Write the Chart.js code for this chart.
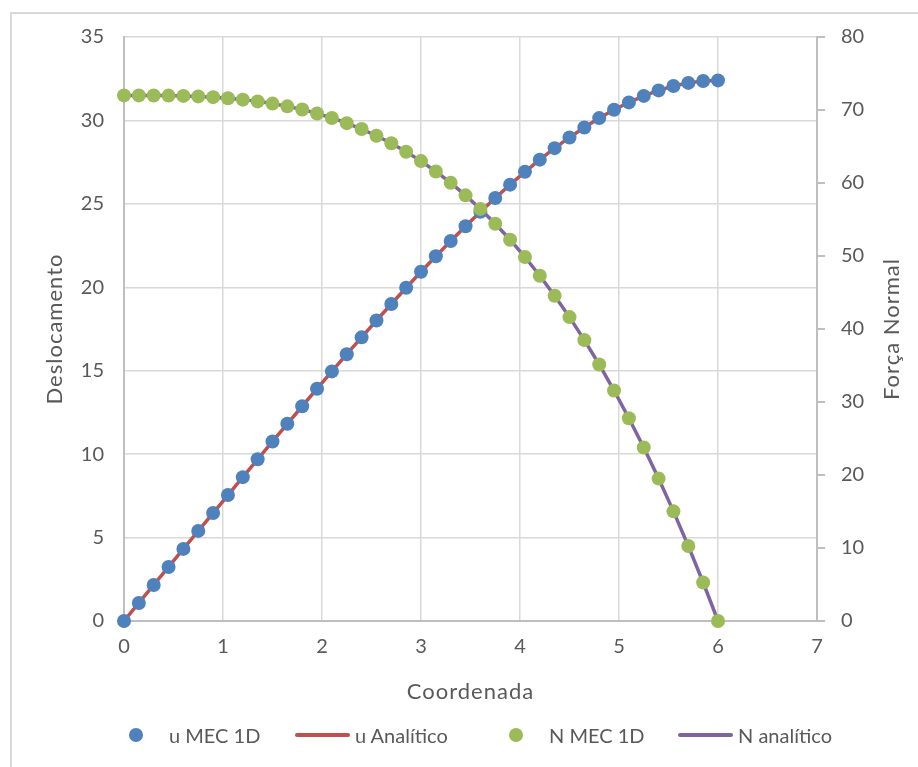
<!DOCTYPE html>
<html>
<head>
<meta charset="utf-8">
<script src="https://cdn.jsdelivr.net/npm/chart.js@4"></script>
<style>
  html, body { margin:0; padding:0; background:#fff; overflow:hidden; }
  #wrap { position:relative; width:918px; height:767px; font-family:Lato, sans-serif; }
  #frame { position:absolute; left:10px; top:12px; width:1000px; height:1000px;
           border:2px solid #d9d9d9; box-sizing:border-box; pointer-events:none; }
  #legend { position:absolute; left:0; top:722px; width:918px; height:26px; }
  .item { position:absolute; top:0; height:26px; display:flex; align-items:center;
          font-size:20px; color:#595959; white-space:nowrap; }
  .dot  { width:14px; height:14px; border-radius:50%; margin-right:26px; }
  .line { width:55px; height:4px; border-radius:2px; margin-right:5px; }
</style>
</head>
<body>
<div id="wrap">
  <canvas id="chart" width="918" height="767"></canvas>
  <div id="frame"></div>
  <div id="legend"></div>
</div>
<script>
// coordenada ao longo da barra
const coords = [0,0.15,0.3,0.45,0.6,0.75,0.9,1.05,1.2,1.35,1.5,1.65,1.8,1.95,2.1,2.25,2.4,2.55,2.7,2.85,
                3,3.15,3.3,3.45,3.6,3.75,3.9,4.05,4.2,4.35,4.5,4.65,4.8,4.95,5.1,5.25,5.4,5.55,5.7,5.85,6];
// deslocamento (MEC 1D)
const uMec = [0,1.08,2.16,3.24,4.32,5.4,6.47,7.55,8.62,9.69,10.76,11.82,12.87,13.92,14.96,15.99,17.0,18.01,19.0,19.97,
              20.93,21.86,22.77,23.66,24.52,25.35,26.15,26.92,27.65,28.34,28.98,29.58,30.14,30.64,31.08,31.47,31.8,32.06,32.25,32.36,32.4];
// força normal (MEC 1D)
const nMec = [72,72,71.99,71.97,71.93,71.86,71.76,71.61,71.42,71.18,70.88,70.5,70.06,69.53,68.91,68.2,67.39,66.47,65.44,64.28,
              63,61.58,60.02,58.31,56.45,54.42,52.23,49.86,47.3,44.56,41.63,38.48,35.14,31.57,27.78,23.77,19.51,15.02,10.27,5.27,0];
// as curvas analíticas passam pelos mesmos pontos
const uAnalitico = uMec;
const nAnalitico = nMec;

const xTicks  = [0,1,2,3,4,5,6,7];
const yTicks  = [0,5,10,15,20,25,30,35];
const y2Ticks = [0,10,20,30,40,50,60,70,80];

const legendX = [129, 295, 509, 678];

const pts = ys => coords.map((x, i) => ({x, y: ys[i]}));
const txt = '#595959', grid = '#d9d9d9', axis = '#bfbfbf';
const FONT = 'Lato, sans-serif';

const datasets = [
  {label:'u MEC 1D', data:pts(uMec), yAxisID:'y', showLine:false, pointRadius:7, pointHoverRadius:7,
   pointBackgroundColor:'#4f81bd', pointBorderWidth:0, order:1, clip:false, kind:'dot'},
  {label:'u Analítico', data:pts(uAnalitico), yAxisID:'y', showLine:true, pointRadius:0,
   borderColor:'#c0504d', borderWidth:3.5, order:3, kind:'line'},
  {label:'N MEC 1D', data:pts(nMec), yAxisID:'y2', showLine:false, pointRadius:7, pointHoverRadius:7,
   pointBackgroundColor:'#9bbb59', pointBorderWidth:0, order:0, clip:false, kind:'dot'},
  {label:'N analítico', data:pts(nAnalitico), yAxisID:'y2', showLine:true, pointRadius:0,
   borderColor:'#8064a2', borderWidth:3.5, order:2, kind:'line'}
];

// títulos dos eixos desenhados à mão (o secundário lê de baixo para cima)
const axisTitles = {
  id:'axisTitles',
  afterDraw(chart) {
    const {ctx, chartArea:a} = chart;
    const midY = (a.top + a.bottom) / 2;
    ctx.save();
    ctx.fillStyle = txt;
    ctx.font = '22px ' + FONT;
    ctx.textAlign = 'center';
    ctx.textBaseline = 'middle';
    if ('letterSpacing' in ctx) ctx.letterSpacing = '1px';
    ctx.fillText('Coordenada', (a.left + a.right) / 2, 692);
    [[55, 'Deslocamento'], [892, 'Força Normal']].forEach(([x, t]) => {
      ctx.save();
      ctx.translate(x, midY);
      ctx.rotate(-Math.PI / 2);
      ctx.fillText(t, 0, 0);
      ctx.restore();
    });
    ctx.restore();
  }
};

const chart = new Chart(document.getElementById('chart'), {
  type:'scatter',
  data:{datasets},
  options:{
    responsive:false, animation:false, devicePixelRatio:1,
    layout:{padding:{left:10, right:0, top:37, bottom:106}},
    plugins:{legend:{display:false}, tooltip:{enabled:false}},
    scales:{
      x:{
        type:'linear', min:0, max:7,
        afterBuildTicks: s => { s.ticks = xTicks.map(v => ({value:v})); },
        afterFit: s => { s.height = 40; },
        ticks:{color:txt, font:{family:FONT, size:20}, padding:14},
        grid:{color:grid, lineWidth:1.5, drawTicks:false},
        border:{color:axis, width:2}
      },
      y:{
        position:'left', min:0, max:35,
        afterBuildTicks: s => { s.ticks = yTicks.map(v => ({value:v})); },
        afterFit: s => { s.width = 114; },
        ticks:{color:txt, font:{family:FONT, size:20}, padding:20},
        grid:{color:grid, lineWidth:1.5, drawTicks:false},
        border:{color:axis, width:2}
      },
      y2:{
        position:'right', min:0, max:80,
        afterBuildTicks: s => { s.ticks = y2Ticks.map(v => ({value:v})); },
        afterFit: s => { s.width = 101; },
        ticks:{color:txt, font:{family:FONT, size:20}, padding:16},
        grid:{drawOnChartArea:false, color:axis, lineWidth:2, tickLength:8},
        border:{color:axis, width:2}
      }
    }
  },
  plugins:[axisTitles]
});

// legenda em HTML a partir dos datasets
const legend = document.getElementById('legend');
chart.data.datasets.forEach((ds, i) => {
  const item = document.createElement('div');
  item.className = 'item';
  item.style.left = legendX[i] + 'px';
  const mark = document.createElement('span');
  mark.className = ds.kind;
  mark.style.background = ds.kind === 'dot' ? ds.pointBackgroundColor : ds.borderColor;
  item.appendChild(mark);
  item.appendChild(document.createTextNode(ds.label));
  legend.appendChild(item);
});
</script>
</body>
</html>
